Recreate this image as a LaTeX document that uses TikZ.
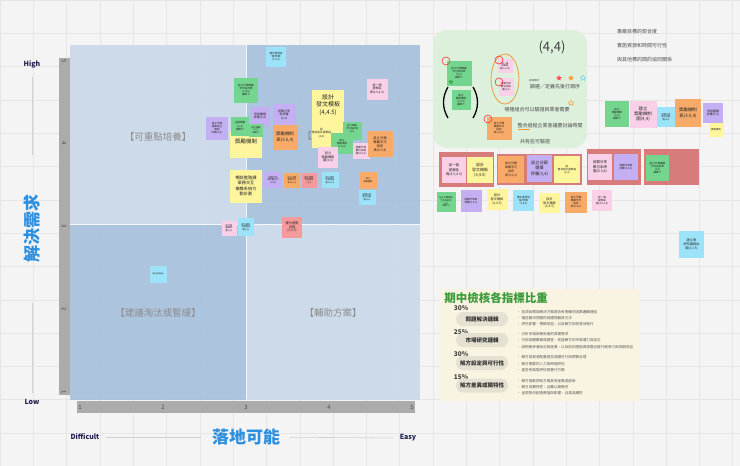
\documentclass[tikz,border=0pt]{standalone}
\usepackage{fontspec}
\setmainfont{Noto Sans CJK TC}
\usepackage{xcolor}
\usetikzlibrary{shapes.geometric}
\definecolor{bgcolor}{HTML}{F4F4F4}
\definecolor{gridcolor}{HTML}{E6E6E6}
\definecolor{quadlight}{HTML}{C9D8E9}
\definecolor{quaddark}{HTML}{A7C0DD}
\definecolor{axisgray}{HTML}{ABABAB}
\definecolor{titleblue}{HTML}{2C8FE0}
\definecolor{navy}{HTML}{1E1E4A}
\definecolor{noteyellow}{HTML}{FFF59D}
\definecolor{notegreen}{HTML}{74D68E}
\definecolor{notepink}{HTML}{F9D0E8}
\definecolor{notepurple}{HTML}{C4AFF2}
\definecolor{noteorange}{HTML}{F8AA68}
\definecolor{noteblue}{HTML}{9CE3F9}
\definecolor{notered}{HTML}{F59A9A}
\definecolor{groupred}{HTML}{D77B7B}
\definecolor{boxgreen}{HTML}{DDF0DC}
\definecolor{panelcream}{HTML}{F8F4E1}
\definecolor{pillgray}{HTML}{E5E1D2}
\definecolor{titlegreen}{HTML}{3A9A3A}
\tikzset{
    note/.style n args={3}{fill=#1, minimum width=#2, minimum height=#3, inner sep=0.5pt,
        align=center, text=black!85, font=\fontsize{2.6}{3.1}\selectfont},
    notetext/.style={inner sep=0pt, align=center, text=black!85},
    quadlabel/.style={text=black!45, font=\fontsize{9.5}{10}\selectfont},
    axisnum/.style={text=black!70, font=\fontsize{6}{6}\selectfont},
    axisline/.style={draw=black!18, line width=0.6pt},
    endlabel/.style={text=navy, inner sep=0pt, font=\bfseries\fontsize{7}{7}\selectfont},
    axistitle/.style={text=titleblue, inner sep=0pt, font=\bfseries\fontsize{17}{17}\selectfont},
    boxtext/.style={text=black!70, inner sep=0pt, font=\fontsize{5}{5}\selectfont},
    pill/.style={fill=pillgray, rounded corners=7pt, minimum width=52, minimum height=14,
        text=black!80, font=\bfseries\fontsize{5.5}{6}\selectfont},
    pct/.style={text=black!75, font=\bfseries\fontsize{6.5}{7}\selectfont},
    bullet/.style={anchor=west, inner sep=0pt, text=black!65, font=\fontsize{3.6}{4}\selectfont},
    redmark/.style={draw=red!80, line width=0.6pt, circle, minimum size=8pt, inner sep=0pt},
}
\begin{document}
\begin{tikzpicture}[x=1pt,y=-1pt]
    \useasboundingbox (0,0) rectangle (740,466);
    \fill[bgcolor] (0,0) rectangle (740,466);
    \draw[gridcolor,step=33.3pt] (0,0) grid (740,466);

    \fill[quadlight,opacity=.92] (70,45) rectangle (246,224);
    \fill[quaddark,opacity=.92] (246,45) rectangle (420,224);
    \fill[quaddark,opacity=.92] (70,224) rectangle (246,400);
    \fill[quadlight,opacity=.92] (246,224) rectangle (420,400);
    \draw[white!80!quadlight, line width=0.8pt] (246,45) -- (246,400);
    \draw[white!80!quadlight, line width=0.8pt] (70,224) -- (420,224);
    \fill[axisgray] (59,58) rectangle (70,395);
    \fill[axisgray] (77,401) rectangle (415,413);
    \node[axisnum, rotate=-90] (y5) at (64,61) {5};
    \node[axisnum, rotate=-90] (y4) at (64,143) {4};
    \node[axisnum, rotate=-90] (y3) at (64,226) {3};
    \node[axisnum, rotate=-90] (y2) at (64,309) {2};
    \node[axisnum, rotate=-90] (y1) at (64,392) {1};
    \node[axisnum] (x1) at (80,407) {1};
    \node[axisnum] (x2) at (163,407) {2};
    \node[axisnum] (x3) at (246,407) {3};
    \node[axisnum] (x4) at (329,407) {4};
    \node[axisnum] (x5) at (412,407) {5};

    \node[quadlabel] (qtl) at (158,137) {【可重點培養】};
    \node[quadlabel] (qtr) at (307,136) {【};
    \node[quadlabel] (qbl) at (158,313) {【建議淘汰或暫緩】};
    \node[quadlabel] (qbr) at (333,313) {【輔助方案】};

    \node[endlabel] (high) at (32,64) {High};
    \node[endlabel] (low) at (32,402) {Low};
    \node[endlabel] (difficult) at (85,437) {Difficult};
    \node[endlabel] (easy) at (408,438) {Easy};
    \node[axistitle, rotate=90] (ytitle) at (32,228) {解決需求};
    \node[axistitle] (xtitle) at (246,437) {落地可能};
    \draw[axisline, shorten <=9pt, shorten >=39pt] (high) -- (ytitle);
    \draw[axisline, shorten <=41pt, shorten >=6pt] (ytitle) -- (low);
    \draw[axisline, shorten <=6pt, shorten >=11pt] (difficult) -- (xtitle);
    \draw[axisline, shorten <=10pt, shorten >=6pt] (xtitle) -- (easy);

    \node[note={noteblue}{20}{20}] (n1) at (276,57) {優化提問流\\程/時間\\(3,5,4)};
    \node[note={notegreen}{24}{25}] (n2) at (246,90) {設立分類專屬\\字元指的表\\(3,4.5)\\細節下};
    \node[note={notepink}{21}{21}, font=\fontsize{3}{3.6}\selectfont] (n3) at (377,89) {設一個\\提案區\\塊(4.5,4.5)};
    \node[note={notepurple}{22}{23}] (n6) at (217,128) {設立分類\\選單設立\\機制\\評審(3,4)};
    \node[note={noteyellow}{32}{27}] (n9) at (246,144) {};
    \node[notetext, font=\fontsize{5.5}{6}\selectfont] (n9t) at (246,141) {獎勵機制};
    \node[note={notepurple}{19}{19}, font=\fontsize{3}{3.6}\selectfont] (n4) at (260,116) {申訴邀請\\評審(3,4)};
    \node[note={notepurple}{23}{22}, font=\fontsize{3}{3.6}\selectfont] (n5) at (284,115) {經驗分享\\新評審\\(3,4)};
    \node[note={notegreen}{18}{19}] (n7) at (240,126) {主題標籤\\(3,4)\\細節下};
    \node[note={notegreen}{14}{13}, font=\fontsize{2.2}{2.6}\selectfont] (n8) at (256,130) {設立專屬\\(3,4)\\細節下};
    \node[note={noteorange}{25}{25}, font=\fontsize{4.4}{5.4}\selectfont] (n10) at (285,137) {獎勵機制\\表(3.5,4)};
    \node[note={noteyellow}{32}{31}, font=\fontsize{6}{7.4}\selectfont] (n11) at (328,105) {設計\\發文模板\\(4,4.5)};
    \node[note={noteyellow}{32}{27}] (n12) at (328,134) {};
    \node[notetext, font=\fontsize{2.7}{3.8}\selectfont] (n12t) at (321.5,133) {設\\整合設計提案組\\(4,4)};
    \node[note={notegreen}{19}{18}] (n13) at (352,131) {};
    \node[notetext, font=\fontsize{2.4}{2.9}\selectfont] (n13t) at (352,129) {設立專屬\\字元指的表\\(4,4)};
    \node[note={notegreen}{22}{21}] (n14) at (342,143) {};
    \node[notetext, font=\fontsize{2.6}{3.1}\selectfont] (n14t) at (342,144) {設立\\獎勵機制\\(3.5,4)};
    \node[note={notepink}{20}{21}, font=\fontsize{3.2}{3.9}\selectfont] (n15) at (328,157) {設立\\獎勵機制\\圖(4,4)};
    \node[note={notepink}{17}{16}] (n16) at (361,151) {經驗分享\\數位系統\\圖(4.5,4)};
    \node[note={noteorange}{25}{26}, font=\fontsize{3.3}{4}\selectfont] (n17) at (380,144) {設立分類\\專屬字元\\指的\\表(4.5,4)};
    \node[note={notepurple}{18}{16}, font=\fontsize{2.2}{2.7}\selectfont] (n18) at (273,180) {經驗分享\\新評審方式\\(3.5,4)};
    \node[note={noteorange}{16}{15}, font=\fontsize{2.2}{2.7}\selectfont] (n19) at (292,180) {設立分類\\專屬字元\\表(3.5,4)};
    \node[note={notered}{15}{15}, font=\fontsize{2.2}{2.7}\selectfont] (n20) at (309,180) {優化提問\\流程時間\\(3,4)};
    \node[note={noteblue}{17}{16}, font=\fontsize{2.2}{2.7}\selectfont] (n21) at (330,180) {建立更好\\知識經由\\圖(3.5,4)};
    \node[note={noteorange}{17}{17}, font=\fontsize{2.2}{2.7}\selectfont] (n22) at (368,180) {設立\\獎勵機制};
    \node[note={noteblue}{17}{15}, font=\fontsize{2.2}{2.7}\selectfont] (n23) at (367,197) {經驗分享\\數位系統\\圖(4,4)};
    \node[note={noteyellow}{32}{33}, font=\fontsize{4.2}{5.4}\selectfont] (n24) at (246,186) {暢談進階課\\業務交互\\複雜系統方\\動計劃};
    \node[note={notepink}{15}{15}, font=\fontsize{2.2}{2.7}\selectfont] (n25) at (229,228) {設立獎\\勵機制\\圖(3,3)};
    \node[note={noteblue}{16}{18}, font=\fontsize{2.2}{2.7}\selectfont] (n26) at (246,227) {建立更好\\知識經由\\圖(3,3)};
    \node[note={notered}{20}{21}, font=\fontsize{3.2}{3.9}\selectfont] (n27) at (292,227) {優化提問\\流程\\(3,5,5)};
    \node[note={noteblue}{17}{17}, font=\fontsize{1.8}{2.2}\selectfont] (n28) at (158,274) {優化提問流程};

    \fill[boxgreen, rounded corners=14pt] (433,30) rectangle (587,148);
    \node[text=black!75, font=\fontsize{13}{13}\selectfont] (coord44) at (552,47) {(4,4)};
    \node[note={notegreen}{25}{25}] (g1) at (459,73) {設立分類專屬\\字元指的表\\(4,4)\\細節下};
    \node[note={notegreen}{19}{20}] (g2) at (461,100) {設立\\獎勵機制\\(3.5,4)\\細節下};
    \draw[line width=1.3pt] (448,87) .. controls (442,97) and (442,108) .. (448,118);
    \draw[line width=1.3pt] (473,87) .. controls (479,97) and (479,108) .. (473,118);
    \node[note={notepink}{15}{14}, font=\fontsize{2.2}{2.7}\selectfont] (p1) at (505,66) {設一個\\提案區\\塊(4.5,4.5)};
    \node[note={notepink}{15}{18}, font=\fontsize{2.4}{2.9}\selectfont] (p2) at (506,87) {經驗分享\\數位系統\\圖(4,4)};
    \draw[orange!70!brown!80, line width=0.8pt] (505,79) ellipse (14pt and 25pt);
    \node[note={noteorange}{25}{23}] (o1) at (499,128) {設立分類\\專屬字元\\指的\\表(3,4.5)};
    \node[redmark] (m1) at (446,61) {};
    \node[redmark] (m2) at (499,60) {};
    \node[redmark] (m3) at (499,82) {};
    \node[redmark] (m4) at (488,119) {};
    \node[star, star point ratio=2.2, fill=red!70, minimum size=6pt, inner sep=0pt] (s1) at (559,78) {};
    \node[star, star point ratio=2.2, fill=orange!80, minimum size=6pt, inner sep=0pt] (s2) at (571,78) {};
    \node[star, star point ratio=2.2, draw=cyan!60, line width=0.4pt, minimum size=6pt, inner sep=0pt] (s3) at (583,78) {};
    \node[star, star point ratio=2.2, draw=orange!80, line width=0.4pt, minimum size=6pt, inner sep=0pt] (s4) at (571,103) {};
    \node[star, star point ratio=2.2, draw=green!50!black, line width=0.3pt, minimum size=4pt, inner sep=0pt] (s5) at (451,82) {};
    \node[boxtext, font=\fontsize{2.5}{3}\selectfont] (t1) at (534,81) {區塊順序};
    \node[boxtext] (t2) at (555,87) {篩選／定義先後打順序};
    \node[boxtext] (t3) at (537,110) {哪裡組合可以驗證與業者需要};
    \node[boxtext] (t4) at (550,126) {整合過程企業會議要討論時間};
    \draw[orange!80, line width=0.6pt] (518,129.5) -- (530,129.5);
    \node[boxtext] (t5) at (535,142) {共有些可驗證};

    \node[boxtext, anchor=west] (c1) at (617,32) {專案目標的契合度};
    \node[boxtext, anchor=west] (c2) at (617,46) {實施資源和時間可行性};
    \node[boxtext, anchor=west] (c3) at (617,60) {與其他標的間的協同關係};

    \node[note={notegreen}{24}{26}] (r1) at (617,114) {設立\\獎勵機制\\(4,4)\\細節下};
    \node[note={notepink}{27}{27}, font=\fontsize{4.4}{5.4}\selectfont] (r2) at (643,114) {建立\\獎勵機制\\圖(4,4)};
    \node[note={noteblue}{18}{20}, font=\fontsize{2.2}{2.7}\selectfont] (r3) at (666,117) {經驗分享\\數位系統\\圖(4,4)};
    \node[note={noteorange}{26}{28}, font=\fontsize{4.4}{5.4}\selectfont] (r4) at (688,113) {獎勵機制\\表(3.5,4)};
    \node[note={notepurple}{20}{20}, font=\fontsize{3}{3.6}\selectfont] (r5) at (713,113) {申訴邀請\\評審(3,4)};
    \node[note={noteyellow}{15}{14}, font=\fontsize{2.4}{2.8}\selectfont] (r6) at (716,130) {獎勵機制};

    \fill[groupred] (439,152) rectangle (494,187);
    \fill[groupred] (497,154) rectangle (582,185);
    \fill[groupred] (587,149) rectangle (641,185);
    \fill[groupred] (644,149) rectangle (699,185);
    \node[note={notepink}{24}{26}, font=\fontsize{3.4}{4.2}\selectfont] (gp1) at (454,170) {設一個\\提案區\\塊(4.5,4.5)};
    \node[note={noteyellow}{26}{26}, font=\fontsize{4}{5}\selectfont] (gy1) at (480,170) {設計\\發文模板\\(4,4.5)};
    \node[note={noteorange}{26}{27}, font=\fontsize{3}{3.7}\selectfont] (go2) at (511,169.5) {設立分類\\專屬字元\\指的\\表(4.5,4)};
    \node[note={notepurple}{25}{27}, font=\fontsize{4.2}{5.2}\selectfont] (gv2) at (539.5,168.5) {設立分類\\選單\\評審(3,4)};
    \node[note={noteyellow}{26}{27}] (gy2) at (567,169.5) {設\\整合設計提案組\\(4,4)};
    \node[note={notepink}{24}{26}, font=\fontsize{3.5}{4.3}\selectfont] (gp3) at (600,167) {經驗分享\\數位系統\\圖(4.5,4)};
    \node[note={notepurple}{24}{26}] (gv3) at (626,167) {經驗分享新\\評審(3.5,4)};
    \node[note={notegreen}{23}{26}] (gg4) at (657.5,168) {設立分類專屬\\字元指的表\\(4,4)\\細節下};

    \node[note={notegreen}{19}{20}, font=\fontsize{2.2}{2.7}\selectfont] (b1) at (446,202) {設立分類專屬\\字元指的表\\(4,4)\\細節下};
    \node[note={notepurple}{21}{22}] (b2) at (471,201) {經驗分享新\\評審(3.5,4)};
    \node[note={noteyellow}{21}{21}, font=\fontsize{3.2}{3.9}\selectfont] (b3) at (497,199.5) {設計\\發文模板\\(4,4.5)};
    \node[note={noteblue}{21}{21}] (b4) at (523.5,200.5) {優化提問流\\程/時間\\(3,5,4)};
    \node[note={noteyellow}{21}{20}, font=\fontsize{3.2}{3.9}\selectfont] (b5) at (549.5,203) {設計\\發文模板\\(4,4.5)};
    \node[note={noteorange}{22}{21}] (b6) at (576,202.5) {設立分類\\專屬字元\\指的\\表(4.5,4)};
    \node[note={notepink}{20}{21}] (b7) at (602,200.5) {設一個\\提案區\\塊(4.5,4.5)};
    \node[note={noteblue}{25}{27}, font=\fontsize{3.2}{3.9}\selectfont] (fb) at (691.5,244.5) {建立更\\好知識經由\\圖(3,3.5)};

    \fill[panelcream] (440,289) rectangle (640,401);
    \node[text=titlegreen, font=\bfseries\fontsize{11.5}{12}\selectfont] (ptitle) at (496,298) {期中檢核各指標比重};
    \node[pct] (w1) at (461,308) {30\%};
    \node[pill] (k1) at (482,319) {問題解決邏輯};
    \node[bullet] (k1a) at (517,312) {•\ 各項目標與解決方案是否有明確的因果邏輯連結};
    \node[bullet] (k1b) at (517,318) {•\ 描述解決問題的具體規劃與方法};
    \node[bullet] (k1c) at (517,324) {•\ 評估影響、預期效益，以及解方如何落地執行};
    \node[pct] (w2) at (461,332) {25\%};
    \node[pill] (k2) at (482,340) {市場研究邏輯};
    \node[bullet] (k2a) at (517,334) {•\ 分析市場與使用者的真實需求};
    \node[bullet] (k2b) at (517,340) {•\ 引用具體數據或調查，佐證解方的市場潛力與定位};
    \node[bullet] (k2c) at (517,347) {•\ 說明競爭者狀況與差異，以及如何透過資源整合提升競爭力與長期效益};
    \node[pct] (w3) at (461,354) {30\%};
    \node[pill] (k3) at (482,363) {解方設定與可行性};
    \node[bullet] (k3a) at (517,357) {•\ 解方與資源配置是否具體可行與預算合理};
    \node[bullet] (k3b) at (517,364) {•\ 解方需要的人力與時間評估};
    \node[bullet] (k3c) at (517,370) {•\ 是否有風險評估與替代方案};
    \node[pct] (w4) at (461,377) {15\%};
    \node[pill] (k4) at (482,385.5) {解方差異或獨特性};
    \node[bullet] (k4a) at (517,381) {•\ 解方相較現有方案具有差異或創新};
    \node[bullet] (k4b) at (517,387) {•\ 解方具獨特性，且難以被模仿};
    \node[bullet] (k4c) at (517,393) {•\ 呈現如何創造價值與影響，且具延續性};
\end{tikzpicture}
\end{document}
